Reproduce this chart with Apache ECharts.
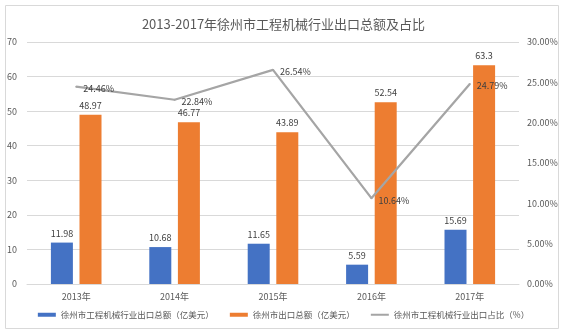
<!DOCTYPE html>
<html><head><meta charset="utf-8">
<script src="https://cdn.jsdelivr.net/npm/echarts@6/dist/echarts.min.js"></script>
<style>html,body{margin:0;padding:0;background:#fff}#c{width:567px;height:336px}</style>
</head><body><div id="c"></div>
<script>
const categories = ['2013年','2014年','2015年','2016年','2017年'];
const machineryExport = [11.98, 10.68, 11.65, 5.59, 15.69];
const totalExport = [48.97, 46.77, 43.89, 52.54, 63.3];
const sharePct = [24.46, 22.84, 26.54, 10.64, 24.79];
const seriesNames = ['徐州市工程机械行业出口总额（亿美元）','徐州市出口总额（亿美元）','徐州市工程机械行业出口占比（%）'];
const titleText = '2013-2017年徐州市工程机械行业出口总额及占比';

const font = '"Noto Sans CJK SC", "Liberation Sans", sans-serif';
const chart = echarts.init(document.getElementById('c'));
chart.setOption({
  animation: false,
  textStyle: {fontFamily: font},
  title: {text: titleText, left: 'center', top: 13, textStyle: {fontSize: 13, fontWeight: 'normal', color: '#595959', fontFamily: font}},
  graphic: [{type: 'rect', shape: {x: 5.5, y: 5.5, width: 553, height: 323}, style: {fill: 'none', stroke: '#d9d9d9', lineWidth: 1}, silent: true}],
  legend: {bottom: 12, left: 'center', itemWidth: 18, itemHeight: 4, itemGap: 16,
    textStyle: {fontSize: 8.5, color: '#595959', fontFamily: font},
    data: [{name: seriesNames[0], icon: 'rect'}, {name: seriesNames[1], icon: 'rect'},
      {name: seriesNames[2], icon: 'path://M0,1H18V3H0Z M0,0H0.05V0.05H0Z M0,3.95H0.05V4H0Z'}]},
  grid: {left: 27, right: 48, top: 42, bottom: 52},
  xAxis: {type: 'category', data: categories, axisTick: {show: false},
    axisLine: {lineStyle: {color: '#d9d9d9'}},
    axisLabel: {fontSize: 9, color: '#595959', margin: 8}},
  yAxis: [
    {type: 'value', min: 0, max: 70, interval: 10, axisLine: {show: false}, axisTick: {show: false},
      axisLabel: {fontSize: 9, color: '#595959', margin: 10}, splitLine: {lineStyle: {color: '#d9d9d9'}}},
    {type: 'value', min: 0, max: 30, interval: 5, axisLine: {show: false}, axisTick: {show: false},
      axisLabel: {fontSize: 9, color: '#595959', margin: 8, formatter: v => v.toFixed(2) + '%'}, splitLine: {show: false}}
  ],
  series: [
    {name: seriesNames[0], type: 'bar', data: machineryExport, barWidth: 22, barGap: '30%',
      itemStyle: {color: '#4472C4'}, label: {show: true, position: 'top', fontSize: 9, color: '#404040'}},
    {name: seriesNames[1], type: 'bar', data: totalExport, barWidth: 22,
      itemStyle: {color: '#ED7D31'}, label: {show: true, position: 'top', fontSize: 9, color: '#404040'}},
    {name: seriesNames[2], type: 'line', yAxisIndex: 1, data: sharePct, symbol: 'circle', symbolSize: 2, showSymbol: true,
      lineStyle: {color: '#A5A5A5', width: 2.25}, itemStyle: {color: '#A5A5A5'},
      label: {show: true, position: 'right', distance: 6, offset: [0, 2], fontSize: 9, color: '#404040', formatter: p => p.value.toFixed(2) + '%'}}
  ]
});
</script></body></html>
